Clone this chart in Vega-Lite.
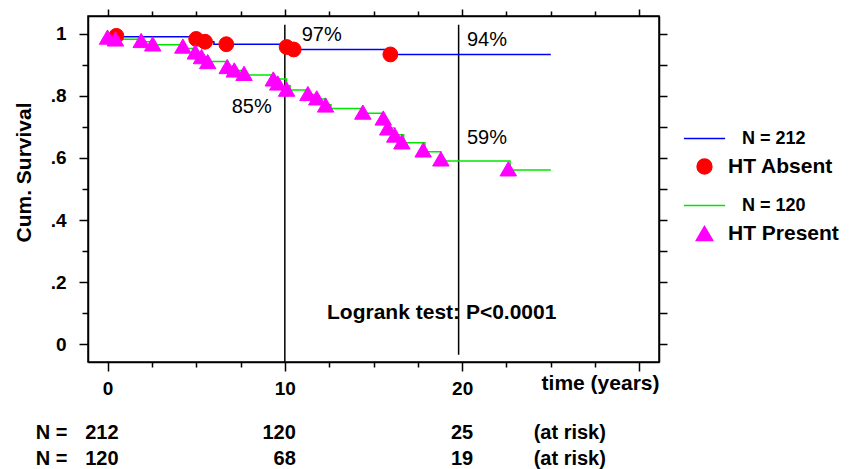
{
  "$schema": "https://vega.github.io/schema/vega-lite/v6.json",
  "width": 571,
  "height": 346,
  "autosize": {"type": "none"},
  "padding": {"left": 88, "top": 16, "right": 200, "bottom": 107},
  "background": "white",
  "config": {
    "view": {"stroke": "black", "strokeWidth": 1.5},
    "font": "Liberation Sans",
    "axis": {
      "grid": false,
      "domainColor": "black",
      "domainWidth": 1.5,
      "tickColor": "black",
      "tickWidth": 1.5,
      "labelColor": "black",
      "titleColor": "black",
      "labelFont": "Liberation Sans",
      "labelFontWeight": "bold",
      "labelFontSize": 19,
      "titleFont": "Liberation Sans",
      "titleFontWeight": "bold",
      "labelFlush": false,
      "labelOverlap": false
    },
    "text": {"font": "Liberation Sans", "color": "black"}
  },
  "datasets": {
    "curves": [
      {"legend": "N = 212", "t": 0, "S": 1.0},
      {"legend": "N = 212", "t": 0.3, "S": 0.991},
      {"legend": "N = 212", "t": 5.0, "S": 0.984},
      {"legend": "N = 212", "t": 5.4, "S": 0.975},
      {"legend": "N = 212", "t": 6.0, "S": 0.967},
      {"legend": "N = 212", "t": 10.1, "S": 0.958},
      {"legend": "N = 212", "t": 10.4, "S": 0.95},
      {"legend": "N = 212", "t": 15.9, "S": 0.934},
      {"legend": "N = 212", "t": 25.0, "S": 0.934},
      {"legend": "N = 120", "t": 0, "S": 1.0},
      {"legend": "N = 120", "t": 0.3, "S": 0.983},
      {"legend": "N = 120", "t": 1.9, "S": 0.975},
      {"legend": "N = 120", "t": 2.6, "S": 0.965},
      {"legend": "N = 120", "t": 4.3, "S": 0.953},
      {"legend": "N = 120", "t": 4.9, "S": 0.94},
      {"legend": "N = 120", "t": 5.3, "S": 0.925},
      {"legend": "N = 120", "t": 5.7, "S": 0.911},
      {"legend": "N = 120", "t": 6.8, "S": 0.895},
      {"legend": "N = 120", "t": 7.2, "S": 0.882},
      {"legend": "N = 120", "t": 7.8, "S": 0.868},
      {"legend": "N = 120", "t": 9.4, "S": 0.855},
      {"legend": "N = 120", "t": 10.1, "S": 0.833},
      {"legend": "N = 120", "t": 10.3, "S": 0.819},
      {"legend": "N = 120", "t": 11.3, "S": 0.805},
      {"legend": "N = 120", "t": 11.8, "S": 0.79},
      {"legend": "N = 120", "t": 12.3, "S": 0.772},
      {"legend": "N = 120", "t": 12.6, "S": 0.76},
      {"legend": "N = 120", "t": 14.4, "S": 0.744},
      {"legend": "N = 120", "t": 15.5, "S": 0.72},
      {"legend": "N = 120", "t": 15.8, "S": 0.697},
      {"legend": "N = 120", "t": 16.2, "S": 0.675},
      {"legend": "N = 120", "t": 16.7, "S": 0.649},
      {"legend": "N = 120", "t": 17.9, "S": 0.62},
      {"legend": "N = 120", "t": 18.8, "S": 0.59},
      {"legend": "N = 120", "t": 22.7, "S": 0.561},
      {"legend": "N = 120", "t": 25.0, "S": 0.561}
    ],
    "censored": [
      {"legend": "HT Absent", "t": 0.5, "S": 0.994},
      {"legend": "HT Absent", "t": 5.0, "S": 0.984},
      {"legend": "HT Absent", "t": 5.5, "S": 0.975},
      {"legend": "HT Absent", "t": 6.7, "S": 0.967},
      {"legend": "HT Absent", "t": 10.1, "S": 0.958},
      {"legend": "HT Absent", "t": 10.5, "S": 0.95},
      {"legend": "HT Absent", "t": 15.95, "S": 0.934},
      {"legend": "HT Present", "t": 0.0, "S": 0.99},
      {"legend": "HT Present", "t": 0.45, "S": 0.984},
      {"legend": "HT Present", "t": 1.9, "S": 0.979},
      {"legend": "HT Present", "t": 2.55, "S": 0.968},
      {"legend": "HT Present", "t": 4.25, "S": 0.961},
      {"legend": "HT Present", "t": 4.95, "S": 0.942},
      {"legend": "HT Present", "t": 5.3, "S": 0.927},
      {"legend": "HT Present", "t": 5.65, "S": 0.911},
      {"legend": "HT Present", "t": 6.75, "S": 0.895},
      {"legend": "HT Present", "t": 7.15, "S": 0.884},
      {"legend": "HT Present", "t": 7.7, "S": 0.873},
      {"legend": "HT Present", "t": 9.35, "S": 0.855},
      {"legend": "HT Present", "t": 9.6, "S": 0.842},
      {"legend": "HT Present", "t": 10.1, "S": 0.822},
      {"legend": "HT Present", "t": 11.3, "S": 0.808},
      {"legend": "HT Present", "t": 11.8, "S": 0.794},
      {"legend": "HT Present", "t": 12.3, "S": 0.771},
      {"legend": "HT Present", "t": 14.4, "S": 0.748},
      {"legend": "HT Present", "t": 15.55, "S": 0.729},
      {"legend": "HT Present", "t": 15.8, "S": 0.697},
      {"legend": "HT Present", "t": 16.2, "S": 0.674},
      {"legend": "HT Present", "t": 16.6, "S": 0.652},
      {"legend": "HT Present", "t": 17.8, "S": 0.626},
      {"legend": "HT Present", "t": 18.8, "S": 0.597},
      {"legend": "HT Present", "t": 22.6, "S": 0.565}
    ],
    "refs": [
      {"t": 10, "top": 1.03, "bottom": -0.058},
      {"t": 19.8, "top": 1.03, "bottom": -0.035}
    ],
    "annot": [
      {"t": 10.95, "S": 0.998, "label": "97%"},
      {"t": 20.27, "S": 0.981, "label": "94%"},
      {"t": 7.0, "S": 0.763, "label": "85%"},
      {"t": 20.27, "S": 0.664, "label": "59%"}
    ],
    "risk": [
      {"grp": "HT Absent", "t": 0, "n": 212},
      {"grp": "HT Absent", "t": 10, "n": 120},
      {"grp": "HT Absent", "t": 20, "n": 25},
      {"grp": "HT Present", "t": 0, "n": 120},
      {"grp": "HT Present", "t": 10, "n": 68},
      {"grp": "HT Present", "t": 20, "n": 19}
    ]
  },
  "layer": [
    {
      "data": {"name": "refs"},
      "mark": {"type": "rule", "color": "black", "strokeWidth": 1.5},
      "encoding": {
        "x": {
          "field": "t", "type": "quantitative",
          "scale": {"domain": [-1.1, 31.1], "nice": false, "zero": false},
          "axis": {
            "orient": "bottom",
            "values": [0, 2.5, 5, 7.5, 10, 12.5, 15, 17.5, 20, 22.5, 25, 27.5, 30],
            "labelExpr": "datum.value == 0 || datum.value == 10 || datum.value == 20 ? format(datum.value, 'd') : ''",
            "tickSize": {"condition": {"test": "datum.value % 10 == 0", "value": 9}, "value": 5},
            "labelPadding": 8,
            "title": "time (years)",
            "titleFontSize": 21,
            "titleX": 571,
            "titleY": 21,
            "titleAlign": "right",
            "titleBaseline": "middle",
            "titleAngle": 0
          }
        },
        "y": {
          "field": "top", "type": "quantitative",
          "scale": {"domain": [-0.058, 1.058], "nice": false, "zero": false},
          "axis": {
            "orient": "left",
            "values": [0, 0.1, 0.2, 0.3, 0.4, 0.5, 0.6, 0.7, 0.8, 0.9, 1],
            "labelExpr": "datum.value == 0 ? '0' : datum.value == 1 ? '1' : (round(datum.value * 10) % 2 == 0 ? '.' + round(datum.value * 10) : '')",
            "tickSize": {"condition": {"test": "round(datum.value * 10) % 2 == 0", "value": 9}, "value": 6},
            "labelPadding": 13,
            "labelBaseline": "middle",
            "title": "Cum. Survival",
            "titleFontSize": 21,
            "titleAngle": -90,
            "titleX": -64,
            "titleY": 156,
            "titleAlign": "center",
            "titleBaseline": "middle"
          }
        },
        "y2": {"field": "bottom"}
      }
    },
    {
      "data": {"name": "curves"},
      "mark": {"type": "line", "interpolate": "step-after", "strokeWidth": 1.5},
      "encoding": {
        "x": {"field": "t", "type": "quantitative", "axis": null},
        "y": {"field": "S", "type": "quantitative", "axis": null},
        "stroke": {
          "field": "legend", "type": "nominal",
          "scale": {"domain": ["N = 212", "N = 120"], "range": ["#0000ff", "#00e600"]},
          "legend": null
        }
      }
    },
    {
      "data": {"name": "censored"},
      "mark": {"type": "point", "filled": false, "opacity": 1, "strokeWidth": 1},
      "encoding": {
        "x": {"field": "t", "type": "quantitative", "axis": null},
        "y": {"field": "S", "type": "quantitative", "axis": null},
        "color": {
          "field": "legend", "type": "nominal",
          "scale": {"domain": ["N = 212", "HT Absent", "N = 120", "HT Present"], "range": ["#0000ff", "#ff0000", "#00e600", "#ff00ff"]},
          "legend": {
            "orient": "none",
            "legendX": 595,
            "legendY": 101,
            "title": null,
            "symbolStrokeWidth": 1.5,
            "labelFont": "Liberation Sans",
            "labelFontWeight": "bold",
            "labelFontSize": {"expr": "indexof(['N = 212', 'N = 120'], datum.label) >= 0 ? 18 : 21"},
            "labelColor": "black",
            "labelOffset": {"expr": "indexof(['N = 212', 'N = 120'], datum.label) >= 0 ? 16 : 2"},
            "rowPadding": 7
          }
        },
        "fill": {
          "field": "legend", "type": "nominal",
          "scale": {"domain": ["N = 212", "HT Absent", "N = 120", "HT Present"], "range": ["#0000ff", "#ff0000", "#00e600", "#ff00ff"]}
        },
        "shape": {
          "field": "legend", "type": "nominal",
          "scale": {"domain": ["N = 212", "HT Absent", "N = 120", "HT Present"], "range": ["stroke", "circle", "stroke", "triangle-up"]}
        },
        "size": {
          "field": "legend", "type": "ordinal",
          "scale": {"type": "ordinal", "domain": ["N = 212", "HT Absent", "N = 120", "HT Present"], "range": [1700, 220, 1700, 270]}
        }
      }
    },
    {
      "data": {"name": "annot"},
      "mark": {"type": "text", "align": "left", "baseline": "middle", "fontSize": 20, "fontWeight": "normal"},
      "encoding": {
        "x": {
          "field": "t", "type": "quantitative",
          "axis": {
            "orient": "top",
            "values": [0, 2.5, 5, 7.5, 10, 12.5, 15, 17.5, 20, 22.5, 25, 27.5, 30],
            "labels": false,
            "title": null,
            "tickSize": {"condition": {"test": "datum.value % 10 == 0", "value": 7}, "value": 5}
          }
        },
        "y": {
          "field": "S", "type": "quantitative",
          "axis": {
            "orient": "right",
            "values": [0, 0.1, 0.2, 0.3, 0.4, 0.5, 0.6, 0.7, 0.8, 0.9, 1],
            "labels": false,
            "title": null,
            "tickSize": 8
          }
        },
        "text": {"field": "label"}
      }
    },
    {
      "data": {"values": [{}]},
      "mark": {"type": "text", "align": "left", "baseline": "middle", "fontSize": 21, "fontWeight": "bold", "text": "Logrank test: P<0.0001"},
      "encoding": {
        "x": {"datum": 12.38, "type": "quantitative", "axis": null},
        "y": {"datum": 0.1, "type": "quantitative", "axis": null}
      }
    },
    {
      "data": {"name": "risk"},
      "transform": [{"filter": "datum.grp == 'HT Absent'"}],
      "mark": {"type": "text", "align": "right", "baseline": "middle", "fontSize": 20, "fontWeight": "bold", "dx": 11, "clip": false},
      "encoding": {
        "x": {"field": "t", "type": "quantitative", "axis": null},
        "y": {"datum": -0.287, "type": "quantitative", "axis": null},
        "text": {"field": "n"}
      }
    },
    {
      "data": {"name": "risk"},
      "transform": [{"filter": "datum.grp == 'HT Present'"}],
      "mark": {"type": "text", "align": "right", "baseline": "middle", "fontSize": 20, "fontWeight": "bold", "dx": 11, "clip": false},
      "encoding": {
        "x": {"field": "t", "type": "quantitative", "axis": null},
        "y": {"datum": -0.371, "type": "quantitative", "axis": null},
        "text": {"field": "n"}
      }
    },
    {
      "data": {"values": [{}]},
      "mark": {"type": "text", "align": "left", "baseline": "middle", "fontSize": 20, "fontWeight": "bold", "text": "N =", "clip": false},
      "encoding": {
        "x": {"datum": -4.05, "type": "quantitative", "axis": null},
        "y": {"datum": -0.287, "type": "quantitative", "axis": null}
      }
    },
    {
      "data": {"values": [{}]},
      "mark": {"type": "text", "align": "left", "baseline": "middle", "fontSize": 20, "fontWeight": "bold", "text": "N =", "clip": false},
      "encoding": {
        "x": {"datum": -4.05, "type": "quantitative", "axis": null},
        "y": {"datum": -0.371, "type": "quantitative", "axis": null}
      }
    },
    {
      "data": {"values": [{}]},
      "mark": {"type": "text", "align": "left", "baseline": "middle", "fontSize": 20, "fontWeight": "bold", "text": "(at risk)", "clip": false},
      "encoding": {
        "x": {"datum": 24.03, "type": "quantitative", "axis": null},
        "y": {"datum": -0.287, "type": "quantitative", "axis": null}
      }
    },
    {
      "data": {"values": [{}]},
      "mark": {"type": "text", "align": "left", "baseline": "middle", "fontSize": 20, "fontWeight": "bold", "text": "(at risk)", "clip": false},
      "encoding": {
        "x": {"datum": 24.03, "type": "quantitative", "axis": null},
        "y": {"datum": -0.371, "type": "quantitative", "axis": null}
      }
    }
  ],
  "resolve": {"axis": {"x": "independent", "y": "independent"}}
}
